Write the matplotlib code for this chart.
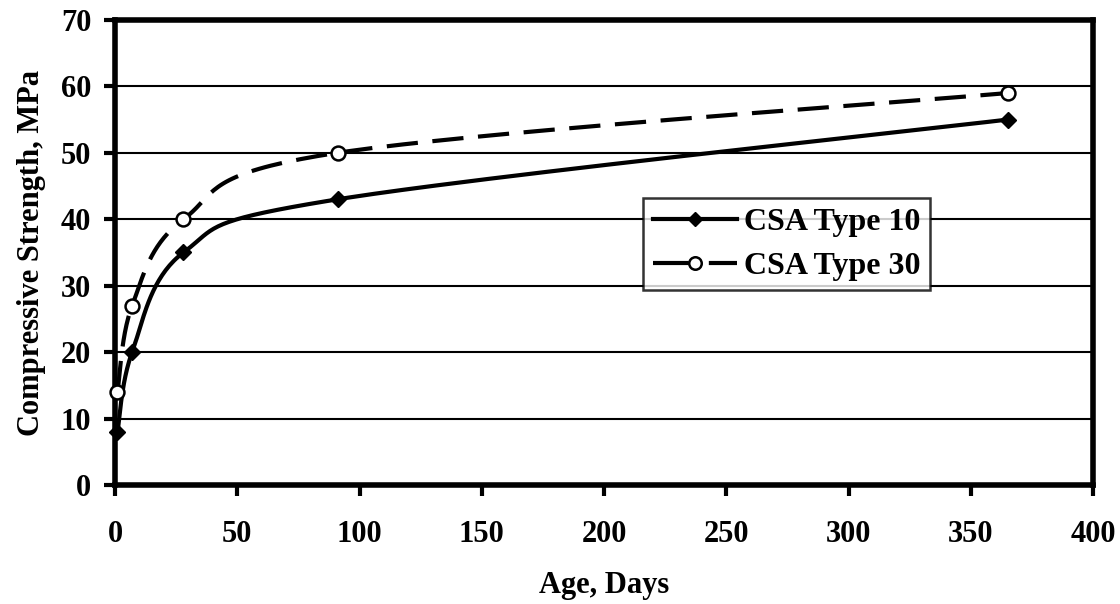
import numpy as np
import matplotlib
matplotlib.use("Agg")
import matplotlib.pyplot as plt

days = [1, 7, 28, 91, 365]
type10 = [8, 20, 35, 43, 55]
type30 = [14, 27, 40, 50, 59]
labels = ["CSA Type 10", "CSA Type 30"]

plt.rcParams['font.family'] = ['Liberation Serif', 'DejaVu Serif']
plt.rcParams['font.weight'] = 'bold'

fig = plt.figure(figsize=(11.2, 6.04), dpi=100)
ax = fig.add_axes([0.1027, 0.197, 0.8733, 0.770])
ax.set_xlim(0, 400)
ax.set_ylim(0, 70)

# scale factors so the smoothing is done in (roughly) pixel space
sx = 978 / 400.0
sy = 465 / 70.0

def smooth(xs, ys, n=40):
    # excel-like smoothed line: cubic bezier with control points from neighbours
    p = np.column_stack([np.array(xs) * sx, np.array(ys) * sy]).astype(float)
    out = []
    for i in range(len(p) - 1):
        p0 = p[i - 1] if i > 0 else p[i]
        p1 = p[i]
        p2 = p[i + 1]
        p3 = p[i + 2] if i + 2 < len(p) else p[i + 1]
        c1 = p1 + (p2 - p0) / 6.0
        c2 = p2 - (p3 - p1) / 6.0
        t = np.linspace(0, 1, n)[:, None]
        seg = ((1 - t) ** 3) * p1 + 3 * ((1 - t) ** 2) * t * c1 + 3 * (1 - t) * t ** 2 * c2 + t ** 3 * p2
        out.append(seg if i == 0 else seg[1:])
    out = np.vstack(out)
    return out[:, 0] / sx, out[:, 1] / sy

for yv in range(10, 70, 10):
    ax.axhline(yv, color='black', lw=1.5, zorder=1)

lw = 3
x10, y10 = smooth(days, type10)
x30, y30 = smooth(days, type30)
ax.plot(x10, y10, color='black', lw=lw, zorder=3)
ax.plot(x30, y30, color='black', lw=lw, dashes=(7.5, 3.5), zorder=3)
ax.plot(days, type10, linestyle='none', marker='D', ms=8, color='black', zorder=4, clip_on=False)
ax.plot(days, type30, linestyle='none', marker='o', ms=10, mfc='white', mec='black', mew=1.8,
        zorder=4, clip_on=False)

# legend proxies
h10, = ax.plot([], [], color='black', lw=lw, marker='D', ms=7)
h30, = ax.plot([], [], color='black', lw=lw, dashes=(8.6, 4.8), marker='o', ms=9, mfc='white',
               mec='black', mew=1.8)
leg = ax.legend([h10, h30], labels, loc='upper left', bbox_to_anchor=(0.54, 0.617),
                fontsize=23, frameon=True, fancybox=False, borderpad=0.3,
                handlelength=2.65, handletextpad=0.2, labelspacing=0.45, borderaxespad=0)
leg.get_frame().set_edgecolor('black')
leg.get_frame().set_linewidth(1.8)
leg.set_zorder(5)

for s in ax.spines.values():
    s.set_linewidth(4)
ax.set_xticks(range(0, 401, 50))
ax.set_yticks(range(0, 71, 10))
ax.tick_params(direction='out', length=8, width=3, labelsize=22)
ax.tick_params(axis='x', pad=17)
ax.tick_params(axis='y', pad=9)
for lab in ax.get_xticklabels() + ax.get_yticklabels():
    lab.set_fontweight('bold')

ax.set_xlabel("Age, Days", fontsize=22, fontweight='bold')
ax.set_ylabel("Compressive Strength, MPa", fontsize=22, fontweight='bold')
ax.xaxis.set_label_coords(0.5, -0.217)
ax.xaxis.label.set_va('center')
ax.yaxis.set_label_coords(-0.085, 0.5)
ax.yaxis.label.set_va('center')

fig.savefig("out.png", dpi=100)
